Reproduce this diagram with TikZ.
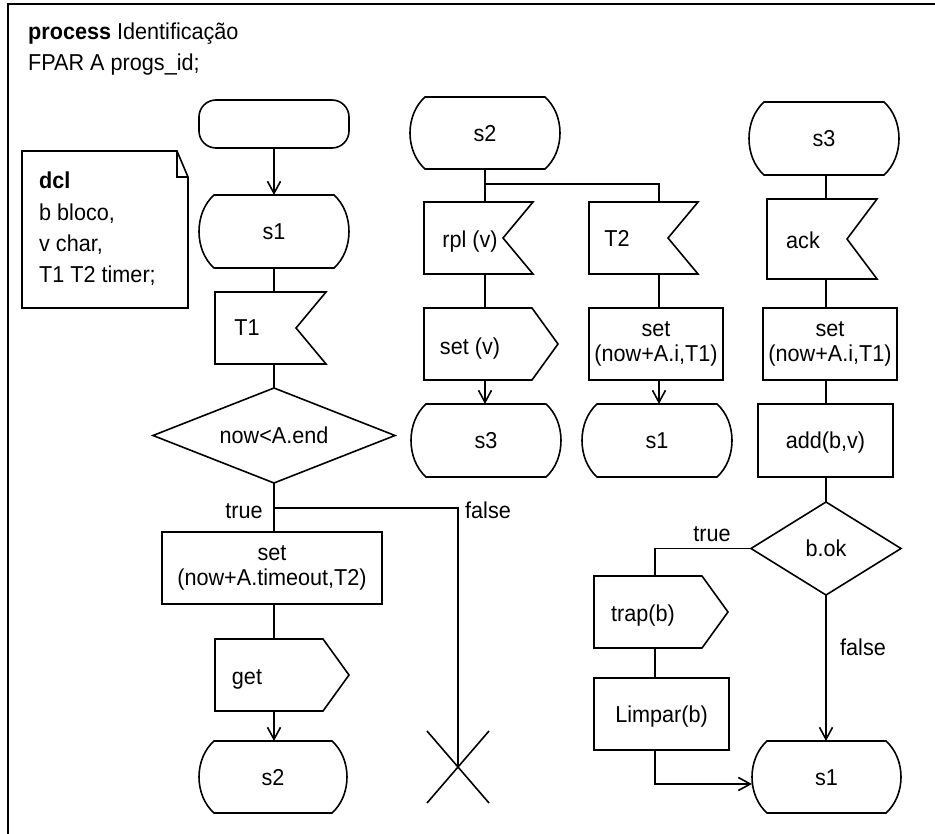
\documentclass[tikz,border=0pt]{standalone}
\usepackage{fontspec}
\setmainfont{Liberation Sans}[FakeStretch=0.94]
\usetikzlibrary{arrows.meta}

% box of given left/top/right/bottom edges, text centred
\newcommand\place[7][oneline]{%
  \node[shapebb,#1,minimum width={(#5)-(#3)},minimum height={(#6)-(#4)}]
    (#2) at ({((#3)+(#5))/2},{((#4)+(#6))/2}) {#7};}
% SDL state symbol: flat top and bottom, bulging sides
\newcommand\statepath[1]{%
  \draw[flow] ([xshift=15pt]#1.north west) -- ([xshift=-15pt]#1.north east)
    .. controls ([xshift=5pt,yshift=-18pt]#1.north east) and ([xshift=5pt,yshift=18pt]#1.south east) .. ([xshift=-15pt]#1.south east)
    -- ([xshift=15pt]#1.south west)
    .. controls ([xshift=-5pt,yshift=18pt]#1.south west) and ([xshift=-5pt,yshift=-18pt]#1.north west) .. cycle;}
% input symbol: notch on the right
\newcommand\inpath[1]{%
  \draw[flow] (#1.north west) -- (#1.north east) -- ([xshift=-30pt]#1.east)
    -- (#1.south east) -- (#1.south west) -- cycle;}
% output symbol: point on the right
\newcommand\outpath[1]{%
  \draw[flow] (#1.north west) -- ([xshift=-26pt]#1.north east) -- (#1.east)
    -- ([xshift=-26pt]#1.south east) -- (#1.south west) -- cycle;}
% decision symbol
\newcommand\diapath[1]{%
  \draw[flow] (#1.north) -- (#1.east) -- (#1.south) -- (#1.west) -- cycle;}

\begin{document}
\begin{tikzpicture}[x=1pt,y=-1pt,
  font=\fontsize{23}{25}\selectfont,
  flow/.style={line width=1.6pt, line join=miter},
  shapebb/.style={inner sep=0pt, outer sep=0pt, line width=1.6pt},
  oneline/.style={text height=16.5pt, text depth=0pt},
  twoline/.style={align=center},
  lbl/.style={inner sep=0pt, text height=16.5pt, text depth=0pt},
  arr/.style={-{Straight Barb[length=12pt,width=13pt]}},
  startbox/.style={draw, line width=1.6pt, rounded corners=17pt, inner sep=0pt,
    minimum width=150pt, minimum height=48pt}]
\useasboundingbox (0,0) rectangle (935,834);
\fill[white] (0,0) rectangle (935,834);

% outer frame
\draw[line width=2pt] (8,900) -- (8,4) -- (1000,4);

% heading
\node[anchor=base west, inner sep=0pt] (title) at (28,40) {\textbf{process} Identificação};
\node[anchor=base west, inner sep=0pt] (fpar) at (28,71) {FPAR A progs\_id;};

% declarations note
\place[]{note}{22}{151}{188}{308}{}
\draw[flow] (note.north west) -- ([xshift=-11pt]note.north east) -- ([yshift=-26pt]note.north east)
  -- (note.south east) -- (note.south west) -- cycle;
\draw[flow] ([xshift=-11pt]note.north east) -- ([xshift=-11pt,yshift=-26pt]note.north east)
  -- ([yshift=-26pt]note.north east);
\node[anchor=north west, align=left, inner sep=0pt, font=\fontsize{23}{31.3}\selectfont]
  (decl) at (39,172) {\textbf{dcl}\\b bloco,\\v char,\\T1 T2 timer;};

% ---- first column: start, s1, T1 ----
\node[startbox] (start) at (274,124) {};
\place{s1}{199}{195}{349}{268}{s1}
\statepath{s1}
\place[]{t1}{215}{292}{326}{364}{}
\inpath{t1}
\node[lbl] (t1txt) at (247,327) {T1};
\place{dec}{153}{388}{395}{483}{now<A.end}
\diapath{dec}
\place[twoline,draw]{settm}{162}{532}{382}{604}{set\\(now+A.timeout,T2)}
\place[]{get}{215}{639}{349}{711}{}
\outpath{get}
\node[lbl] (gettxt) at (247,676) {get};
\place{s2b}{199}{741}{347}{813}{s2}
\statepath{s2b}

\coordinate (j1) at (274,508);
\coordinate (xend) at (458,767);
\draw[flow,arr] (start) -- (s1);
\draw[flow] (s1.south) -- (s1.south |- t1.north);
\draw[flow] (dec.north |- t1.south) -- (dec.north);
\draw[flow] (dec.south) -- (j1 |- settm.north);
\draw[flow] (j1) -| (xend);
\draw[flow] ([shift={(-31pt,36pt)}]xend) -- ([shift={(31pt,-36pt)}]xend);
\draw[flow] ([shift={(31pt,36pt)}]xend) -- ([shift={(-31pt,-36pt)}]xend);
\draw[flow] (j1 |- settm.south) -- (j1 |- get.north);
\draw[flow,arr] (j1 |- get.south) -- (j1 |- s2b.north);
\node[lbl] (true1) at (244,510) {true};
\node[lbl] (false1) at (488,510) {false};

% ---- state s2 ----
\place{s2}{410}{97}{560}{169}{s2}
\statepath{s2}
\place[]{rpl}{424}{202}{533}{274}{}
\inpath{rpl}
\node[lbl] (rpltxt) at (470,239) {rpl (v)};
\place[]{setv}{424}{308}{558}{380}{}
\outpath{setv}
\node[lbl] (setvtxt) at (470,346) {set (v)};
\place{s3m}{411}{404}{561}{477}{s3}
\statepath{s3m}

\place[]{t2}{589}{202}{698}{274}{}
\inpath{t2}
\node[lbl] (t2txt) at (617,238) {T2};
\place[twoline,draw]{seta}{589}{308}{723}{380}{set\\(now+A.i,T1)}
\place{s1m}{582}{404}{732}{477}{s1}
\statepath{s1m}

\coordinate (j2) at (485,184);
\coordinate (j3) at (659,184);
\draw[flow] (s2.south) -- (s2.south |- rpl.north);
\draw[flow] (j2) -- (j3) -- (j3 |- t2.north);
\draw[flow] (s2.south |- rpl.south) -- (s2.south |- setv.north);
\draw[flow,arr] (s2.south |- setv.south) -- (s2.south |- s3m.north);
\draw[flow] (j3 |- t2.south) -- (j3 |- seta.north);
\draw[flow,arr] (j3 |- seta.south) -- (j3 |- s1m.north);

% ---- state s3 ----
\place{s3t}{749}{102}{899}{175}{s3}
\statepath{s3t}
\place[]{ack}{767}{199}{877}{279}{}
\inpath{ack}
\node[lbl] (acktxt) at (803,240) {ack};
\place[twoline,draw]{setb}{763}{308}{897}{380}{set\\(now+A.i,T1)}
\place[oneline,draw]{add}{758}{404}{893}{477}{add(b,v)}
\place{bok}{751}{502}{901}{595}{b.ok}
\diapath{bok}
\place{s1r}{752}{741}{901}{813}{s1}
\statepath{s1r}
\place[]{trap}{594}{576}{728}{648}{}
\outpath{trap}
\node[lbl] (traptxt) at (643,613) {trap(b)};
\place[oneline,draw]{limpar}{594}{678}{729}{750}{Limpar(b)}

\coordinate (c4) at (826,0);
\coordinate (c5) at (655,0);
\draw[flow] (c4 |- s3t.south) -- (c4 |- ack.north);
\draw[flow] (c4 |- ack.south) -- (c4 |- setb.north);
\draw[flow] (c4 |- setb.south) -- (c4 |- add.north);
\draw[flow] (c4 |- add.south) -- (c4 |- bok.north);
\draw[flow,arr] (c4 |- bok.south) -- (c4 |- s1r.north);
\draw[flow] (bok.west) -| (c5 |- trap.north);
\draw[flow] (c5 |- trap.south) -- (c5 |- limpar.north);
\draw[flow,arr] (c5 |- limpar.south) |- ([yshift=-7pt]s1r.west);
\node[lbl] (true2) at (712,533) {true};
\node[lbl] (false2) at (863,647) {false};
\end{tikzpicture}
\end{document}
